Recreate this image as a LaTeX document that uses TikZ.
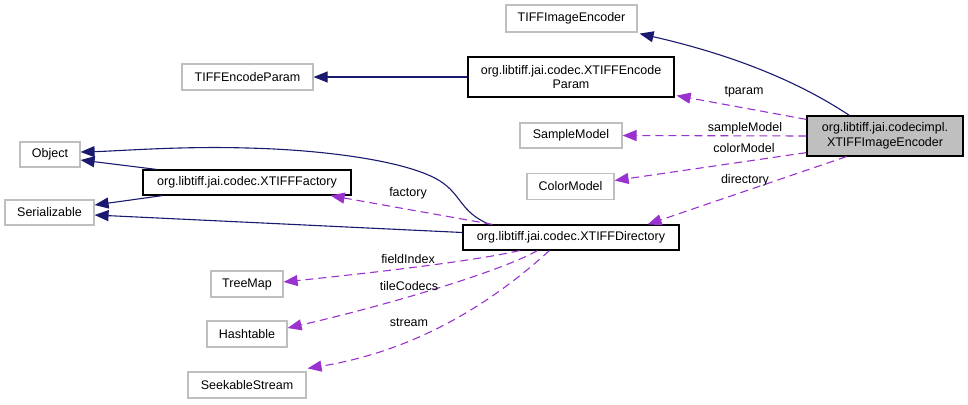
\documentclass[tikz,border=0pt]{standalone}
\usepackage{fontspec}
\setmainfont{Liberation Sans}
\usetikzlibrary{arrows.meta,calc}
\definecolor{navy}{HTML}{191970}
\definecolor{purp}{HTML}{9A32CD}
\definecolor{lgray}{HTML}{BFBFBF}
\begin{document}
\begin{tikzpicture}[x=1pt,y=-1pt,
  font=\fontsize{12.5}{14.5}\selectfont,
  cls/.style={draw=lgray,line width=1.2pt,fill=white,inner sep=0pt,align=center},
  doc/.style={draw=black,line width=1.2pt,fill=white,inner sep=0pt,align=center},
  cur/.style={draw=black,line width=1.2pt,fill=lgray,inner sep=0pt,align=center},
  inh/.style={draw=navy,line width=1.1pt,-{Triangle[length=14pt,width=11pt]}},
  use/.style={draw=purp,line width=1.1pt,dash pattern=on 8pt off 5pt,-{Triangle[length=14pt,width=11pt]}},
  lbl/.style={inner sep=0pt}]
\useasboundingbox (0,0) rectangle (968,404);
\node[cls,minimum width=131pt,minimum height=27pt] (TIE) at (571.5,18.5) {TIFFImageEncoder};
\node[doc,minimum width=206pt,minimum height=40pt] (XEP) at (571,77) {org.libtiff.jai.codec.XTIFFEncode\\Param};
\node[cls,minimum width=131pt,minimum height=26pt] (TEP) at (247.5,77) {TIFFEncodeParam};
\node[cls,minimum width=102pt,minimum height=25pt] (SM) at (571,135.5) {SampleModel};
\node[cls,minimum width=87pt,minimum height=26pt] (CM) at (570.5,186.5) {ColorModel};
\node[cur,minimum width=156pt,minimum height=40pt] (XIE) at (885,136) {org.libtiff.jai.codecimpl.\\XTIFFImageEncoder};
\node[cls,minimum width=60pt,minimum height=25pt] (OBJ) at (50,154.5) {Object};
\node[doc,minimum width=208pt,minimum height=25pt] (XF) at (247,182.5) {org.libtiff.jai.codec.XTIFFFactory};
\node[cls,minimum width=89pt,minimum height=25pt] (SER) at (49.5,212.5) {Serializable};
\node[doc,minimum width=216pt,minimum height=25pt] (XD) at (571,237.5) {org.libtiff.jai.codec.XTIFFDirectory};
\node[cls,minimum width=72pt,minimum height=26pt] (TM) at (247,284) {TreeMap};
\node[cls,minimum width=80pt,minimum height=26pt] (HT) at (247,334) {Hashtable};
\node[cls,minimum width=118pt,minimum height=26pt] (SS) at (247,385) {SeekableStream};

% inheritance
\draw[inh] ($(XIE.north west)+(43,0)$) .. controls (790,76) and (720,52) .. ($(TIE.south east)+(2,1)$);
\draw[inh] (XEP.west) -- (TEP.east);
\draw[inh] ($(XF.north west)+(14,0)$) -- ($(OBJ.east)+(0,5.5)$);
\draw[inh] ($(XF.south west)+(20,0)$) -- ($(SER.east)+(0,-7.5)$);
\draw[inh] ($(XD.north west)+(27,0)$) .. controls (460,212) and (462,195) .. (440,181)
  .. controls (410,162) and (330,150) .. (247,148)
  .. controls (180,146) and (120,151) .. ($(OBJ.east)+(0,-2.5)$);
\draw[inh] ($(XD.west)+(0,-5)$) -- ($(SER.east)+(0,2.5)$);

% usage
\draw[use] ($(XIE.north west)+(0,4)$) -- ($(XEP.south east)+(2,-2)$);
\node[lbl] (Ltp) at (744,92) {tparam};
\draw[use] (XIE.west) -- (SM.east);
\node[lbl] (Lsm) at (745,128) {sampleModel};
\draw[use] ($(XIE.south west)+(0,-4)$) -- ($(CM.east)+(0,-6)$);
\node[lbl] (Lcm) at (744,148) {colorModel};
\draw[use] ($(XIE.south west)+(40,0)$) -- ($(XD.north east)+(-32,0)$);
\node[lbl] (Ldir) at (745,180) {directory};
\draw[use] ($(XD.north west)+(30,0)$) -- ($(XF.south east)+(-21,0)$);
\node[lbl] (Lfac) at (408,193) {factory};
\draw[use] ($(XD.south west)+(57,0)$) .. controls (470,262) and (360,274) .. ($(TM.east)+(0,-2)$);
\node[lbl] (Lfi) at (408,259) {fieldIndex};
\draw[use] ($(XD.south west)+(75,0)$) .. controls (500,272) and (380,307) .. ($(HT.east)+(0,-6)$);
\node[lbl] (Ltc) at (409,286) {tileCodecs};
\draw[use] ($(XD.south west)+(87,0)$) .. controls (495,300) and (420,350) .. ($(SS.north east)+(1,-3)$);
\node[lbl] (Lst) at (409,323) {stream};
\end{tikzpicture}
\end{document}
